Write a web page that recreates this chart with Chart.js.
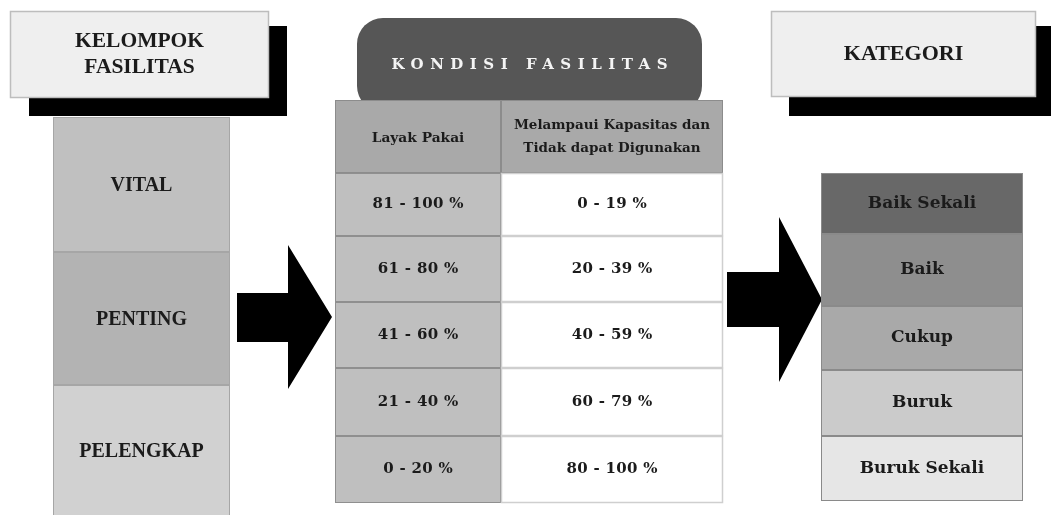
<!DOCTYPE html>
<html>
<head>
<meta charset="utf-8">
<script src="https://cdn.jsdelivr.net/npm/chart.js@4.4.0/dist/chart.umd.min.js"></script>
<style>
  html, body { margin: 0; padding: 0; background: #fff; }
  #wrap { width: 1051px; height: 515px; position: relative; }
</style>
</head>
<body>
<div id="wrap"><canvas id="skema"></canvas></div>
<script>
// data
const groupTitle = ["KELOMPOK", "FASILITAS"];
const groups = ["VITAL", "PENTING", "PELENGKAP"];
const conditionTitle = "KONDISI FASILITAS";
const tableHeaders = [["Layak Pakai"], ["Melampaui Kapasitas dan", "Tidak dapat Digunakan"]];
const layakPakai = ["81 - 100 %", "61 - 80 %", "41 - 60 %", "21 - 40 %", "0 - 20 %"];
const melampaui = ["0 - 19 %", "20 - 39 %", "40 - 59 %", "60 - 79 %", "80 - 100 %"];
const categoryTitle = "KATEGORI";
const categories = ["Baik Sekali", "Baik", "Cukup", "Buruk", "Buruk Sekali"];

// layout (in scale units, 1 unit = 1 px of the 1051x515 frame)
const layout = {
  groupBox: { x0: 10, x1: 269, y0: 11, y1: 98, shadow: [29, 26, 287, 116] },
  groupCol: { x0: 53, x1: 230, edges: [117, 252, 385, 516] },
  leftArrow: { x0: 237, neck: 288, tip: 332, s0: 293, s1: 342, h0: 245, h1: 389 },
  condBox: { x0: 357, x1: 702, y0: 18, y1: 112, r: 26 },
  table: { x0: 335, xs: 501, x1: 723, edges: [100, 173, 236, 302, 368, 436, 503] },
  rightArrow: { x0: 727, neck: 779, tip: 822, s0: 272, s1: 327, h0: 217, h1: 382 },
  catBox: { x0: 771, x1: 1036, y0: 11, y1: 97, shadow: [789, 26, 1060, 116] },
  catCol: { x0: 821, x1: 1023, edges: [173, 234, 306, 370, 436, 501] }
};
const groupColors = ["#c0c0c0", "#b3b3b3", "#d1d1d1"];
const catColors = ["#686868", "#8e8e8e", "#a9a9a9", "#cbcbcb", "#e6e6e6"];
const SERIF = "'DejaVu Serif', serif";
const TIMES = "'Liberation Serif', 'Times New Roman', serif";

const diagramPlugin = {
  id: "diagram",
  afterDraw(chart) {
    const ctx = chart.ctx;
    const sx = chart.scales.x, sy = chart.scales.y;
    const X = v => sx.getPixelForValue(v);
    const Y = v => sy.getPixelForValue(v);

    function rect(x0, y0, x1, y1, fill, stroke, lw) {
      ctx.save();
      ctx.fillStyle = fill;
      ctx.fillRect(X(x0), Y(y0), X(x1) - X(x0), Y(y1) - Y(y0));
      if (stroke) {
        ctx.strokeStyle = stroke;
        ctx.lineWidth = lw || 1;
        ctx.strokeRect(X(x0) + 0.5, Y(y0) + 0.5, X(x1) - X(x0) - 1, Y(y1) - Y(y0) - 1);
      }
      ctx.restore();
    }
    function text(str, x, y, size, spacing, color, family) {
      ctx.save();
      ctx.font = "bold " + size + "px " + (family || SERIF);
      ctx.letterSpacing = spacing + "px";
      ctx.fillStyle = color || "#1b1b1b";
      ctx.textAlign = "center";
      ctx.textBaseline = "middle";
      ctx.fillText(str, X(x) + spacing / 2, Y(y));
      ctx.restore();
    }
    function arrow(a) {
      const my = (a.h0 + a.h1) / 2;
      ctx.save();
      ctx.fillStyle = "#000";
      ctx.beginPath();
      ctx.moveTo(X(a.x0), Y(a.s0));
      ctx.lineTo(X(a.neck), Y(a.s0));
      ctx.lineTo(X(a.neck), Y(a.h0));
      ctx.lineTo(X(a.tip), Y(my));
      ctx.lineTo(X(a.neck), Y(a.h1));
      ctx.lineTo(X(a.neck), Y(a.s1));
      ctx.lineTo(X(a.x0), Y(a.s1));
      ctx.closePath();
      ctx.fill();
      ctx.restore();
    }
    function titleBox(b, lines, size, spacing) {
      const s = b.shadow;
      rect(s[0], s[1], s[2], s[3], "#000");
      rect(b.x0, b.y0, b.x1, b.y1, "#efefef", "#bdbdbd", 1.5);
      const cx = (b.x0 + b.x1) / 2, cy = (b.y0 + b.y1) / 2;
      const lh = 26;
      lines.forEach((l, i) => text(l, cx, cy + (i - (lines.length - 1) / 2) * lh, size, spacing, "#1b1b1b", TIMES));
    }

    // title boxes with shadows
    titleBox(layout.groupBox, groupTitle, 21.5, 0);
    titleBox(layout.catBox, [categoryTitle], 22, 0);

    // facility groups column
    const gc = layout.groupCol;
    groups.forEach((g, i) => {
      rect(gc.x0, gc.edges[i], gc.x1, gc.edges[i + 1], groupColors[i], "#a6a6a6", 1);
      text(g, (gc.x0 + gc.x1) / 2, (gc.edges[i] + gc.edges[i + 1]) / 2 + 1, 20, 0, "#1b1b1b", TIMES);
    });

    // arrows
    arrow(layout.leftArrow);
    arrow(layout.rightArrow);

    // condition title (rounded)
    const cb = layout.condBox;
    ctx.save();
    ctx.fillStyle = "#565656";
    ctx.beginPath();
    ctx.roundRect(X(cb.x0), Y(cb.y0), X(cb.x1) - X(cb.x0), Y(cb.y1) - Y(cb.y0), cb.r);
    ctx.fill();
    ctx.restore();
    text(conditionTitle, (cb.x0 + cb.x1) / 2, 65, 15, 6.5, "#f4f4f4");

    // condition table
    const t = layout.table, e = t.edges;
    rect(t.x0, e[0], t.xs, e[1], "#a9a9a9", "#8c8c8c", 1);
    rect(t.xs, e[0], t.x1, e[1], "#a9a9a9", "#8c8c8c", 1);
    const hy = (e[0] + e[1]) / 2;
    text(tableHeaders[0][0], (t.x0 + t.xs) / 2, hy + 2, 13.8, 0);
    tableHeaders[1].forEach((l, i) => text(l, (t.xs + t.x1) / 2, hy + (i - 0.5) * 23, 13.5, 0));
    layakPakai.forEach((v, i) => {
      const y0 = e[i + 1], y1 = e[i + 2], cy = (y0 + y1) / 2;
      rect(t.x0, y0, t.xs, y1, "#bfbfbf", "#8f8f8f", 1);
      rect(t.xs, y0, t.x1, y1, "#ffffff", "#cfcfcf", 1.5);
      text(v, (t.x0 + t.xs) / 2, cy, 15, 0.3);
      text(melampaui[i], (t.xs + t.x1) / 2, cy, 15, 0.3);
    });

    // categories column
    const kc = layout.catCol;
    categories.forEach((c, i) => {
      rect(kc.x0, kc.edges[i], kc.x1, kc.edges[i + 1], catColors[i], "#8a8a8a", 1);
      text(c, (kc.x0 + kc.x1) / 2, (kc.edges[i] + kc.edges[i + 1]) / 2, 17, 0);
    });
  }
};

new Chart(document.getElementById("skema").getContext("2d"), {
  type: "scatter",
  data: { datasets: [{ data: [], pointRadius: 0 }] },
  options: {
    responsive: true,
    maintainAspectRatio: false,
    animation: false,
    layout: { padding: 0 },
    plugins: { legend: { display: false }, tooltip: { enabled: false } },
    scales: {
      x: { type: "linear", min: 0, max: 1051, display: false },
      y: { type: "linear", min: 0, max: 515, reverse: true, display: false }
    }
  },
  plugins: [diagramPlugin]
});
</script>
</body>
</html>
